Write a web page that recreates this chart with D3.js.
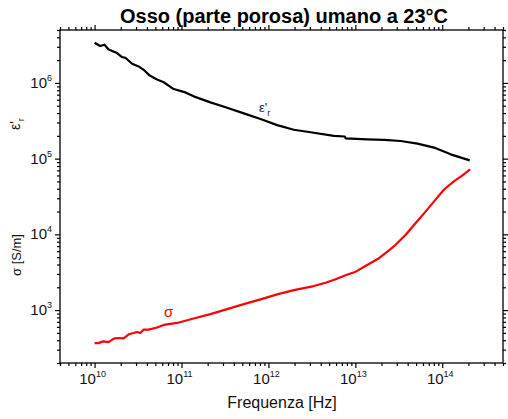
<!DOCTYPE html>
<html>
<head>
<meta charset="utf-8">
<script src="https://cdn.jsdelivr.net/npm/d3@7"></script>
<style>
  body { margin: 0; background: #fff; }
  svg { display: block; font-family: "Liberation Sans", Arial, sans-serif; }
</style>
</head>
<body>
<svg id="chart" width="508" height="419"></svg>
<script>
// Relative permittivity of porous human bone at 23 °C
const freqEps = [1.0e10, 1.16e10, 1.30e10, 1.45e10, 1.81e10, 2.07e10, 2.26e10, 2.70e10,
  3.21e10, 3.67e10, 4.31e10, 5.24e10, 6.24e10, 8.13e10, 1.11e11, 1.38e11, 2.15e11,
  3.35e11, 5.21e11, 8.11e11, 1.26e12, 1.96e12, 3.05e12, 5.66e12, 7.59e12, 7.73e12,
  1.37e13, 2.13e13, 3.33e13, 5.18e13, 8.05e13, 1.25e14, 2.07e14];
const epsValues = [3.40e6, 3.07e6, 3.20e6, 2.77e6, 2.48e6, 2.19e6, 2.15e6, 1.79e6,
  1.65e6, 1.49e6, 1.25e6, 1.11e6, 1.02e6, 8.3e5, 7.5e5, 6.65e5, 5.54e5,
  4.70e5, 3.96e5, 3.33e5, 2.77e5, 2.41e5, 2.23e5, 2.00e5, 1.96e5, 1.85e5,
  1.80e5, 1.77e5, 1.71e5, 1.58e5, 1.40e5, 1.14e5, 9.5e4];

// Conductivity [S/m]
const freqSigma = [1.0e10, 1.11e10, 1.25e10, 1.45e10, 1.66e10, 1.89e10, 2.16e10, 2.47e10,
  2.81e10, 3.08e10, 3.36e10, 3.67e10, 4.19e10, 5.24e10, 6.24e10, 8.89e10, 1.38e11,
  2.15e11, 3.35e11, 5.21e11, 8.11e11, 1.26e12, 1.96e12, 3.33e12, 4.55e12, 5.93e12,
  7.73e12, 1.01e13, 1.37e13, 1.87e13, 2.34e13, 2.91e13, 3.80e13, 4.95e13, 6.46e13,
  8.05e13, 1.05e14, 1.37e14, 1.71e14, 2.09e14];
const sigmaValues = [366, 366, 386, 378, 420, 428, 424, 479,
  498, 514, 498, 552, 552, 588, 636, 676, 773,
  883, 1028, 1198, 1383, 1611, 1837, 2076, 2296, 2548,
  2878, 3215, 3946, 4843, 5929, 7280, 9880, 1.41e4, 2.01e4,
  2.73e4, 3.91e4, 5.05e4, 6.0e4, 7.2e4];

const xTickExponents = [10, 11, 12, 13, 14];
const yTickExponents = [3, 4, 5, 6];

const svg = d3.select("#chart");
const plotLeft = 60, plotRight = 503, plotTop = 30, plotBottom = 363;

const x = d3.scaleLog().domain([4e9, 5e14]).range([plotLeft, plotRight]);
const y = d3.scaleLog().domain([200, 5e6]).range([plotBottom, plotTop]);

const xMajor = xTickExponents.map(e => Math.pow(10, e));
const yMajor = yTickExponents.map(e => Math.pow(10, e));
const isMajor = (v, majors) => majors.some(m => Math.abs(v / m - 1) < 1e-9);
const xMinor = x.ticks().filter(v => !isMajor(v, xMajor));
const yMinor = y.ticks().filter(v => !isMajor(v, yMajor));

function styleAxis(g) {
  g.select(".domain").remove();
  g.selectAll(".tick line").attr("stroke", "#000").attr("stroke-width", 1.2);
  g.selectAll(".tick text").remove();
}

// ticks on all four sides, pointing outward
const axes = [
  [d3.axisBottom, `translate(0,${plotBottom})`, x, xMinor, xMajor],
  [d3.axisTop, `translate(0,${plotTop})`, x, xMinor, xMajor],
  [d3.axisLeft, `translate(${plotLeft},0)`, y, yMinor, yMajor],
  [d3.axisRight, `translate(${plotRight},0)`, y, yMinor, yMajor]
];
axes.forEach(([fn, tr, sc, minor, major]) => {
  svg.append("g").attr("transform", tr)
    .call(fn(sc).tickValues(minor).tickSize(3).tickFormat(""))
    .call(styleAxis);
  svg.append("g").attr("transform", tr)
    .call(fn(sc).tickValues(major).tickSize(5).tickFormat(""))
    .call(styleAxis);
});

// frame
svg.append("rect")
  .attr("x", plotLeft).attr("y", plotTop)
  .attr("width", plotRight - plotLeft).attr("height", plotBottom - plotTop)
  .attr("fill", "none").attr("stroke", "#000").attr("stroke-width", 1.3);

// x tick labels: 10^n
xTickExponents.forEach(e => {
  const t = svg.append("text")
    .attr("x", x(Math.pow(10, e)) - 2).attr("y", 384)
    .attr("text-anchor", "middle").attr("font-size", 15).attr("fill", "#111");
  t.append("tspan").text("10");
  t.append("tspan").attr("dy", -7).attr("font-size", 9).text(String(e));
});

// y tick labels: 10^n
yTickExponents.forEach(e => {
  const t = svg.append("text")
    .attr("x", 52).attr("y", y(Math.pow(10, e)) + 5)
    .attr("text-anchor", "end").attr("font-size", 15).attr("fill", "#111");
  t.append("tspan").text("10");
  t.append("tspan").attr("dy", -7).attr("font-size", 9).text(String(e));
});

// curves
const line = d3.line().x(d => x(d[0])).y(d => y(d[1]));
svg.append("path")
  .datum(freqEps.map((f, i) => [f, epsValues[i]]))
  .attr("d", line).attr("fill", "none")
  .attr("stroke", "#000").attr("stroke-width", 2.2).attr("stroke-linejoin", "round");
svg.append("path")
  .datum(freqSigma.map((f, i) => [f, sigmaValues[i]]))
  .attr("d", line).attr("fill", "none")
  .attr("stroke", "#ff0000").attr("stroke-width", 2.2).attr("stroke-linejoin", "round");

// in-plot curve labels
const epsLabel = svg.append("text").attr("x", 259).attr("y", 112)
  .attr("font-size", 13).attr("fill", "#222");
epsLabel.append("tspan").text("ε'");
epsLabel.append("tspan").attr("dy", 4).attr("font-size", 9).text("r");

svg.append("text").attr("x", 164).attr("y", 317)
  .attr("font-size", 15).attr("fill", "#ff0000").text("σ");

// title
svg.append("text").attr("x", 284).attr("y", 23)
  .attr("text-anchor", "middle").attr("font-size", 20).attr("font-weight", "bold")
  .attr("fill", "#000").text("Osso (parte porosa) umano a 23°C");

// x axis title
svg.append("text").attr("x", 282).attr("y", 408)
  .attr("text-anchor", "middle").attr("font-size", 16).attr("fill", "#111")
  .text("Frequenza [Hz]");

// y axis titles (rotated)
const yl1 = svg.append("text")
  .attr("transform", "translate(20,124) rotate(-90)")
  .attr("text-anchor", "middle").attr("font-size", 14).attr("fill", "#111");
yl1.append("tspan").text("ε'");
yl1.append("tspan").attr("dy", 4).attr("font-size", 9.5).text("r");

svg.append("text")
  .attr("transform", "translate(21,255) rotate(-90)")
  .attr("text-anchor", "middle").attr("font-size", 13).attr("fill", "#111")
  .text("σ [S/m]");
</script>
</body>
</html>
